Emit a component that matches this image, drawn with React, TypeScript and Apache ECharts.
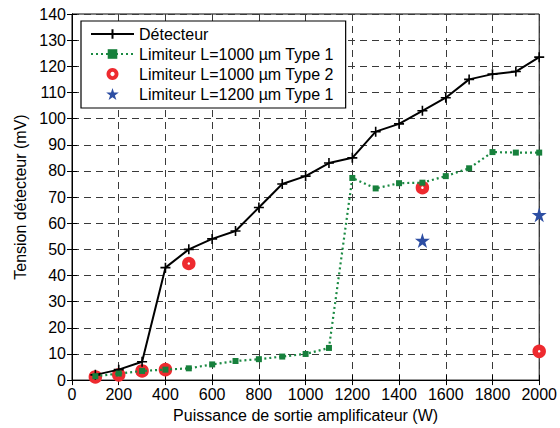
import React, { useEffect, useRef } from "react";
import * as echarts from "echarts";

const xTicks = [100, 200, 300, 400, 500, 600, 700, 800, 900, 1000, 1100, 1200, 1300, 1400, 1500, 1600, 1700, 1800, 1900, 2000];
const detecteur = [2, 4, 7, 43, 50, 54, 57, 66, 75, 78, 83, 85, 95, 98, 103, 108, 115, 117, 118, 123.5];
const limType1_1000 = [1.5, 2.5, 3.5, 4, 4.5, 6, 7.3, 8, 9, 10, 12.3, 77.3, 73.3, 75.3, 75.5, 78, 81, 87.2, 87, 87];
const limType2_x = [100, 200, 300, 400, 500, 1500, 2000];
const limType2_y = [1.2, 2, 3.5, 4, 44.6, 73.6, 11];
const lim1200_x = [1500, 2000];
const lim1200_y = [53.4, 63.2];

const FONT = "Liberation Sans, Arial, sans-serif";
const FS = 16;
const STAR = "path://M50,0 L61.8,36.2 L100,36.2 L69.1,58.8 L80.9,95.1 L50,72.4 L19.1,95.1 L30.9,58.8 L0,36.2 L38.2,36.2 Z";
const PLUS = "path://M0,5 L10,5 M5,0 L5,10";
const RING = "path://M50,0 A50,50 0 1 1 49.9,0 Z M50,32 A18,18 0 1 0 50.1,32 Z";

export default function App() {
  const ref = useRef<HTMLDivElement>(null);
  useEffect(() => {
    if (!ref.current) return;
    const chart = echarts.init(ref.current, undefined, { renderer: "svg" });
    const split = { show: true, lineStyle: { type: [7, 5] as any, color: "#3a3a3a", width: 1 } };
    chart.setOption({
      animation: false,
      backgroundColor: "#fff",
      textStyle: { fontFamily: FONT },
      grid: { left: 72, right: 20, top: 14, bottom: 41, show: true, borderColor: "#000", borderWidth: 1, backgroundColor: "transparent" },
      legend: {
        left: 81, top: 21, orient: "vertical",
        backgroundColor: "#fff", borderColor: "#000", borderWidth: 1.2,
        padding: [5, 12, 6, 9], itemGap: 4, itemWidth: 43, itemHeight: 12,
        textStyle: { fontSize: FS, color: "#000", fontFamily: FONT },
        data: [
          "Détecteur",
          "Limiteur L=1000 µm Type 1",
          { name: "Limiteur L=1000 µm Type 2", icon: RING, itemStyle: { color: "#ee2a2f", borderWidth: 0 } },
          "Limiteur L=1200 µm Type 1",
        ],
      },
      xAxis: [
        {
          type: "value", min: 0, max: 2000, interval: 200,
          name: "Puissance de sortie amplificateur (W)", nameLocation: "middle", nameGap: 26,
          nameTextStyle: { fontSize: FS, color: "#000", fontFamily: FONT },
          axisLine: { show: true, lineStyle: { color: "#000" } },
          axisTick: { show: true, inside: true, length: 5, lineStyle: { color: "#000" } },
          axisLabel: { fontSize: FS, color: "#000", margin: 6, fontFamily: FONT, formatter: (v: number) => String(v) },
          splitLine: split,
        },
        {
          type: "value", min: 0, max: 2000, interval: 200, position: "top",
          axisLine: { show: true, lineStyle: { color: "#000" } },
          axisTick: { show: true, inside: true, length: 5, lineStyle: { color: "#000" } },
          axisLabel: { show: false }, splitLine: { show: false },
        },
      ],
      yAxis: [
        {
          type: "value", min: 0, max: 140, interval: 10,
          name: "Tension détecteur (mV)", nameLocation: "middle", nameGap: 44,
          nameTextStyle: { fontSize: FS, color: "#000", fontFamily: FONT },
          axisLine: { show: true, lineStyle: { color: "#000" } },
          axisTick: { show: true, inside: true, length: 5, lineStyle: { color: "#000" } },
          axisLabel: { fontSize: FS, color: "#000", margin: 6, fontFamily: FONT },
          splitLine: split,
        },
        {
          type: "value", min: 0, max: 140, interval: 10, position: "right",
          axisLine: { show: true, lineStyle: { color: "#000" } },
          axisTick: { show: true, inside: true, length: 5, lineStyle: { color: "#000" } },
          axisLabel: { show: false }, splitLine: { show: false },
        },
      ],
      series: [
        {
          name: "Détecteur", type: "line",
          data: xTicks.map((x, i) => [x, detecteur[i]]),
          lineStyle: { color: "#000", width: 2 },
          symbol: PLUS, symbolSize: 10, showAllSymbol: true,
          itemStyle: { color: "#000", borderColor: "#000", borderWidth: 1.6 },
          z: 3,
        },
        {
          name: "Limiteur L=1000 µm Type 1", type: "line",
          data: xTicks.map((x, i) => [x, limType1_1000[i]]),
          lineStyle: { color: "#1b8a43", width: 2.2, type: [2, 3] as any },
          symbol: "rect", symbolSize: 6, showAllSymbol: true,
          itemStyle: { color: "#17803c" },
          z: 4,
        },
        {
          name: "Limiteur L=1000 µm Type 2", type: "scatter",
          data: limType2_x.map((x, i) => [x, limType2_y[i]]),
          symbol: "circle", symbolSize: 8,
          itemStyle: { color: "#fff", borderColor: "#ee2a2f", borderWidth: 5.5, opacity: 1 },
          z: 2,
        },
        {
          name: "Limiteur L=1200 µm Type 1", type: "scatter",
          data: lim1200_x.map((x, i) => [x, lim1200_y[i]]),
          symbol: STAR, symbolSize: 15,
          itemStyle: { color: "#2d4ea3", opacity: 1 },
          z: 5,
        },
      ],
    });
    return () => chart.dispose();
  }, []);
  return <div ref={ref} style={{ position: "absolute", left: 0, top: 0, width: 560, height: 428 }} />;
}
